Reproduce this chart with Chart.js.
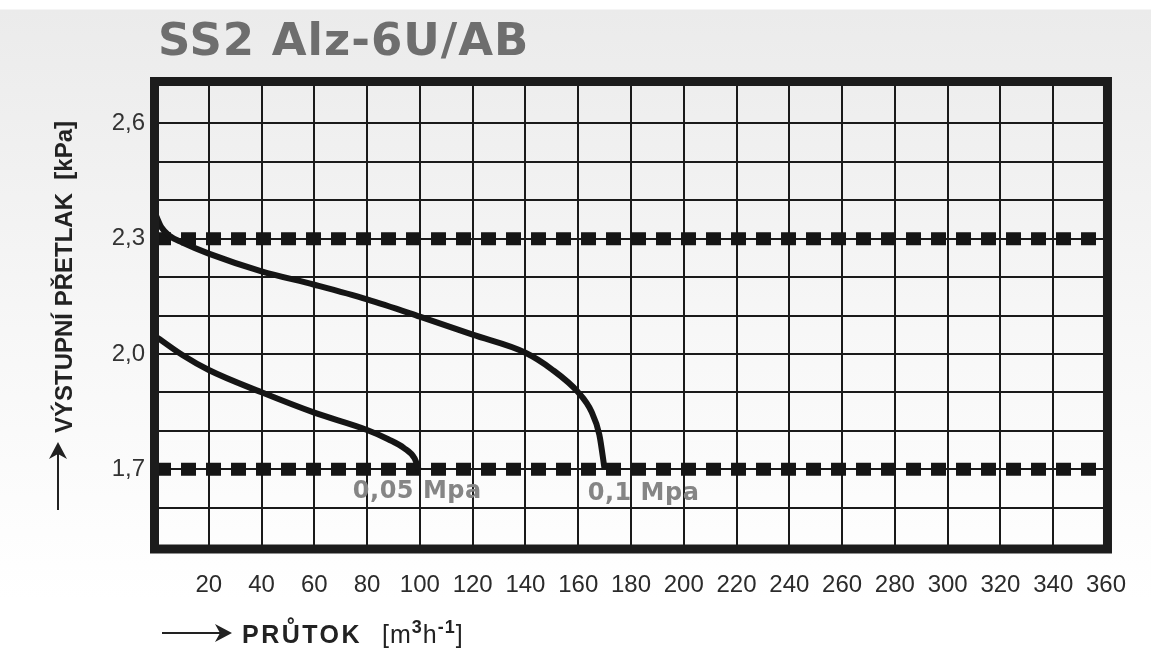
<!DOCTYPE html>
<html>
<head>
<meta charset="utf-8">
<script src="https://cdn.jsdelivr.net/npm/chart.js@4.4.0/dist/chart.umd.min.js"></script>
<style>
html, body { margin: 0; padding: 0; }
body {
    width: 1151px; height: 649px; overflow: hidden;
    background: linear-gradient(#ffffff 0px, #ffffff 9px, #ebebeb 10px, #f7f7f7 330px, #ffffff 600px);
}
#obal { position: relative; width: 1151px; height: 649px; }
</style>
</head>
<body>
<div id="obal"><canvas id="graf"></canvas></div>
<script>
// Data - průtok [m3/h] a výstupní přetlak [kPa]
const prutok01 = [0, 2, 5, 10, 20, 40, 60, 80, 100, 120, 140, 150, 160, 165, 168, 170];
const tlak01 = [2.36, 2.33, 2.308, 2.29, 2.261, 2.215, 2.18, 2.142, 2.097, 2.05, 2.003, 1.96, 1.9, 1.85, 1.79, 1.70];
const prutok005 = [0, 10, 20, 40, 60, 80, 88, 94, 98, 99.5];
const tlak005 = [2.045, 1.997, 1.958, 1.9, 1.847, 1.802, 1.778, 1.755, 1.728, 1.70];
const mezePrutok = [0, 360];
const mezeHorni = 2.3;
const mezeDolni = 1.7;
const xPopisky = [20, 40, 60, 80, 100, 120, 140, 160, 180, 200, 220, 240, 260, 280, 300, 320, 340, 360];
const yPopisky = [1.7, 2.0, 2.3, 2.6];
const nazvyKrivek = ['0,05 Mpa', '0,1 Mpa'];
const nadpis = 'SS2 Alz-6U/AB';

const body = (xs, ys) => xs.map((v, i) => ({ x: v, y: ys[i] }));
const vodorovna = hodnota => mezePrutok.map(v => ({ x: v, y: hodnota }));

const pismo = '"Liberation Sans", Arial, sans-serif';

// Rámeček, nadpis, popisky os a křivek
const vykresleni = {
    id: 'vykresleni',
    afterDraw(chart) {
        const { ctx, chartArea: a, scales: { x, y } } = chart;
        ctx.save();

        // ramecek
        ctx.lineWidth = 9;
        ctx.strokeStyle = '#1c1c1c';
        ctx.strokeRect(a.left - 1.5, a.top - 3.5, a.right - a.left + 3, a.bottom - a.top + 6.5);

        // nadpis
        ctx.fillStyle = '#6e6e6e';
        ctx.font = 'bold 45px "DejaVu Sans"';
        ctx.letterSpacing = '1px';
        ctx.textAlign = 'left';
        ctx.textBaseline = 'alphabetic';
        ctx.fillText(nadpis, 158, 55);

        // popisky krivek
        ctx.fillStyle = '#858585';
        ctx.font = 'bold 24px "DejaVu Sans"';
        ctx.letterSpacing = '0.5px';
        ctx.fillText(nazvyKrivek[0], x.getPixelForValue(74.6), y.getPixelForValue(1.625));
        ctx.fillText(nazvyKrivek[1], x.getPixelForValue(163.6), y.getPixelForValue(1.62));

        ctx.fillStyle = '#222';
        ctx.strokeStyle = '#222';

        // osa x - sipka a popis
        ctx.lineWidth = 2;
        ctx.beginPath();
        ctx.moveTo(162, 633);
        ctx.lineTo(222, 633);
        ctx.stroke();
        ctx.beginPath();
        ctx.moveTo(232, 633);
        ctx.lineTo(215, 624);
        ctx.lineTo(220, 633);
        ctx.lineTo(215, 642);
        ctx.closePath();
        ctx.fill();

        ctx.font = 'bold 25px ' + pismo;
        ctx.letterSpacing = '2.5px';
        ctx.fillText('PRŮTOK', 242, 643);
        let px = 382;
        const kus = (text, font, posun) => {
            ctx.font = font;
            ctx.fillText(text, px, 643 - posun);
            px += ctx.measureText(text).width;
        };
        ctx.letterSpacing = '1px';
        kus('[m', '25px ' + pismo, 0);
        kus('3', 'bold 18px ' + pismo, 10);
        kus('h', '25px ' + pismo, 0);
        kus('-1', 'bold 18px ' + pismo, 10);
        kus(']', '25px ' + pismo, 0);

        // osa y - sipka a popis
        ctx.letterSpacing = '0px';
        ctx.beginPath();
        ctx.moveTo(58, 510);
        ctx.lineTo(58, 452);
        ctx.stroke();
        ctx.beginPath();
        ctx.moveTo(58, 442);
        ctx.lineTo(49, 459);
        ctx.lineTo(58, 454);
        ctx.lineTo(67, 459);
        ctx.closePath();
        ctx.fill();

        ctx.translate(72, 433);
        ctx.rotate(-Math.PI / 2);
        ctx.font = 'bold 24px ' + pismo;
        ctx.fillText('VÝSTUPNÍ PŘETLAK  [kPa]', 0, 0);

        ctx.restore();
    }
};

const mrizka = { color: '#1a1a1a', lineWidth: 2, drawTicks: false };

new Chart(document.getElementById('graf'), {
    type: 'line',
    data: {
        datasets: [{
            label: nazvyKrivek[1],
            data: body(prutok01, tlak01),
            borderColor: '#151515',
            borderWidth: 6,
            pointRadius: 0,
            cubicInterpolationMode: 'monotone'
        }, {
            label: nazvyKrivek[0],
            data: body(prutok005, tlak005),
            borderColor: '#151515',
            borderWidth: 6,
            pointRadius: 0,
            cubicInterpolationMode: 'monotone'
        }, {
            label: 'horni',
            data: vodorovna(mezeHorni),
            borderColor: '#151515',
            borderWidth: 13,
            borderDash: [15, 10],
            pointRadius: 0
        }, {
            label: 'dolni',
            data: vodorovna(mezeDolni),
            borderColor: '#151515',
            borderWidth: 13,
            borderDash: [15, 10],
            pointRadius: 0
        }]
    },
    options: {
        responsive: true,
        maintainAspectRatio: false,
        animation: false,
        layout: { padding: { top: 85, right: 44, left: 0, bottom: 0 } },
        plugins: { legend: { display: false }, tooltip: { enabled: false } },
        scales: {
            x: {
                type: 'linear',
                min: 0,
                max: 360,
                afterFit(s) { s.height = 103; },
                grid: mrizka,
                border: { display: false },
                ticks: {
                    stepSize: 20,
                    padding: 25,
                    autoSkip: false,
                    maxRotation: 0,
                    color: '#2b2b2b',
                    font: { family: pismo, size: 24 },
                    callback: v => xPopisky.includes(v) ? String(v) : ''
                }
            },
            y: {
                type: 'linear',
                min: 1.5,
                max: 2.7,
                afterFit(s) { s.width = 156; },
                grid: mrizka,
                border: { display: false },
                ticks: {
                    stepSize: 0.1,
                    padding: 11,
                    autoSkip: false,
                    color: '#333',
                    font: { family: pismo, size: 24 },
                    callback: v => yPopisky.some(p => Math.abs(p - v) < 1e-6) ? v.toFixed(1).replace('.', ',') : ''
                }
            }
        }
    },
    plugins: [vykresleni]
});
</script>
</body>
</html>
